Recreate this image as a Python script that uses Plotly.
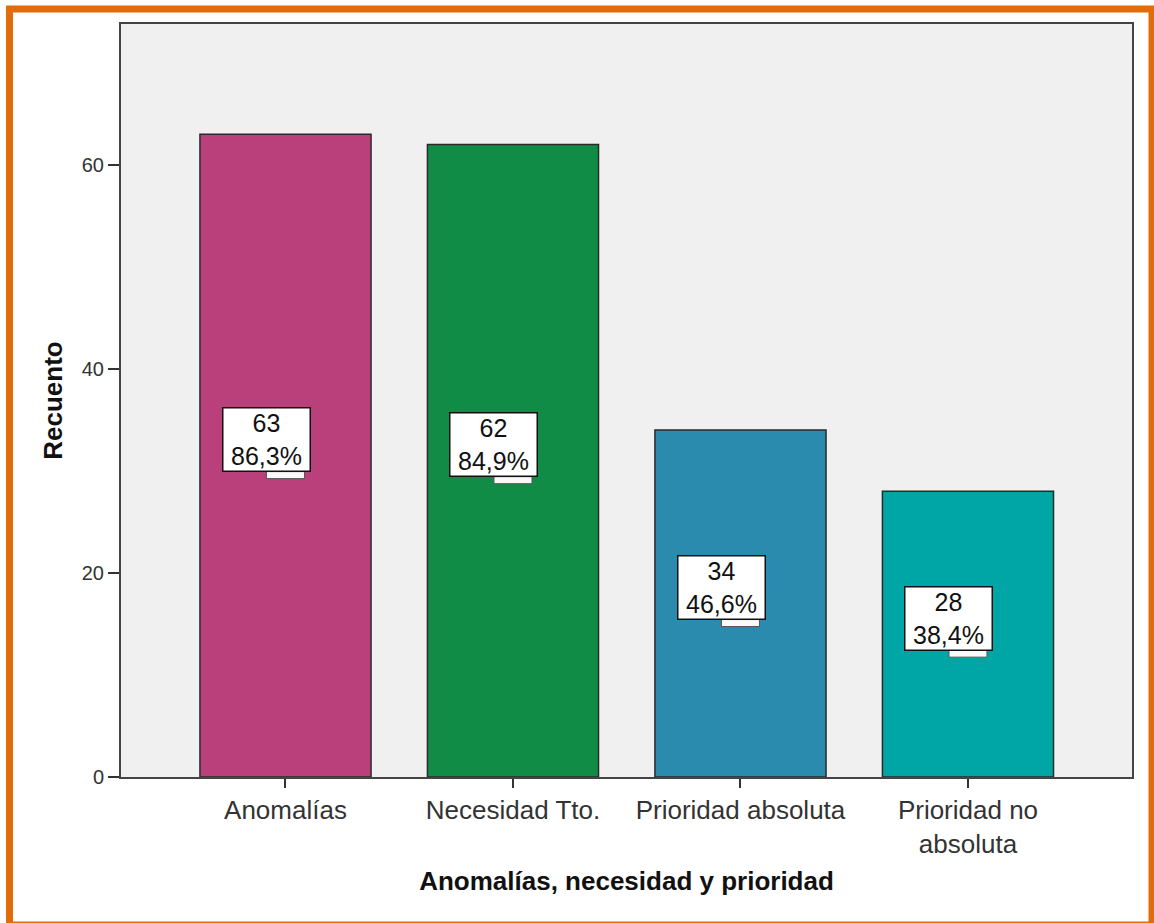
import plotly.graph_objects as go

# Counts and percentages per category
categories = ["Anomalías", "Necesidad Tto.", "Prioridad absoluta", "Prioridad no<br>absoluta"]
counts = [63, 62, 34, 28]
percents = ["86,3%", "84,9%", "46,6%", "38,4%"]
bar_colors = ["#BA407B", "#108C46", "#2A8BAE", "#00A6A6"]
y_ticks = [0, 20, 40, 60]

FONT = "Liberation Sans, Arial, sans-serif"
xs = list(range(len(categories)))

fig = go.Figure(
    go.Bar(
        x=xs,
        y=counts,
        width=0.752,
        marker=dict(color=bar_colors, line=dict(color="#2A2A2A", width=1.5)),
        hoverinfo="skip",
    )
)

shapes = []
annotations = []
for i, (c, p) in enumerate(zip(counts, percents)):
    mid = c / 2
    # small tab under each label box
    shapes.append(dict(
        type="rect", layer="above",
        xref="x", yref="y", xsizemode="pixel", ysizemode="pixel",
        xanchor=i, yanchor=mid, x0=-19, x1=19, y0=-16, y1=-23,
        fillcolor="#FAFAFA", line=dict(color="#555555", width=1),
    ))
    annotations.append(dict(
        x=i, y=mid, xref="x", yref="y",
        text=f"{c}<br>{p}", showarrow=False,
        xshift=-19, yshift=16,
        width=86, height=62, borderpad=0,
        bgcolor="white", bordercolor="#111111", borderwidth=1.5,
        font=dict(family=FONT, size=25, color="#111111"),
    ))

# orange frame around the whole figure
shapes.append(dict(
    type="rect", xref="paper", yref="paper", layer="above",
    x0=-0.1103, x1=1.0198, y0=-0.1965, y1=1.0199,
    line=dict(color="#E36C0A", width=7), fillcolor="rgba(0,0,0,0)",
))

fig.update_layout(
    width=1154, height=923,
    margin=dict(l=121, r=22, t=24, b=146),
    paper_bgcolor="white",
    plot_bgcolor="#F0F0F0",
    showlegend=False,
    shapes=shapes,
    annotations=annotations,
    xaxis=dict(
        range=[-0.723, 3.721],
        tickmode="array", tickvals=xs, ticktext=categories,
        ticks="outside", ticklen=9, tickwidth=2, tickcolor="#333333",
        showline=True, linecolor="#444444", linewidth=2, mirror=True,
        showgrid=False, zeroline=False,
        tickfont=dict(family=FONT, size=26, color="#333333"),
        title=dict(text="<b>Anomalías, necesidad y prioridad</b>", standoff=14,
                   font=dict(family=FONT, size=26, color="#111111")),
    ),
    yaxis=dict(
        range=[0, 73.8],
        tickmode="array", tickvals=y_ticks,
        ticks="outside", ticklen=11, tickwidth=2, tickcolor="#333333",
        showline=True, linecolor="#444444", linewidth=2, mirror=True,
        showgrid=False, zeroline=False,
        tickfont=dict(family=FONT, size=20, color="#333333"),
        title=dict(text="<b>Recuento</b>", standoff=12,
                   font=dict(family=FONT, size=26, color="#111111")),
    ),
)

fig.write_html("out.html")
